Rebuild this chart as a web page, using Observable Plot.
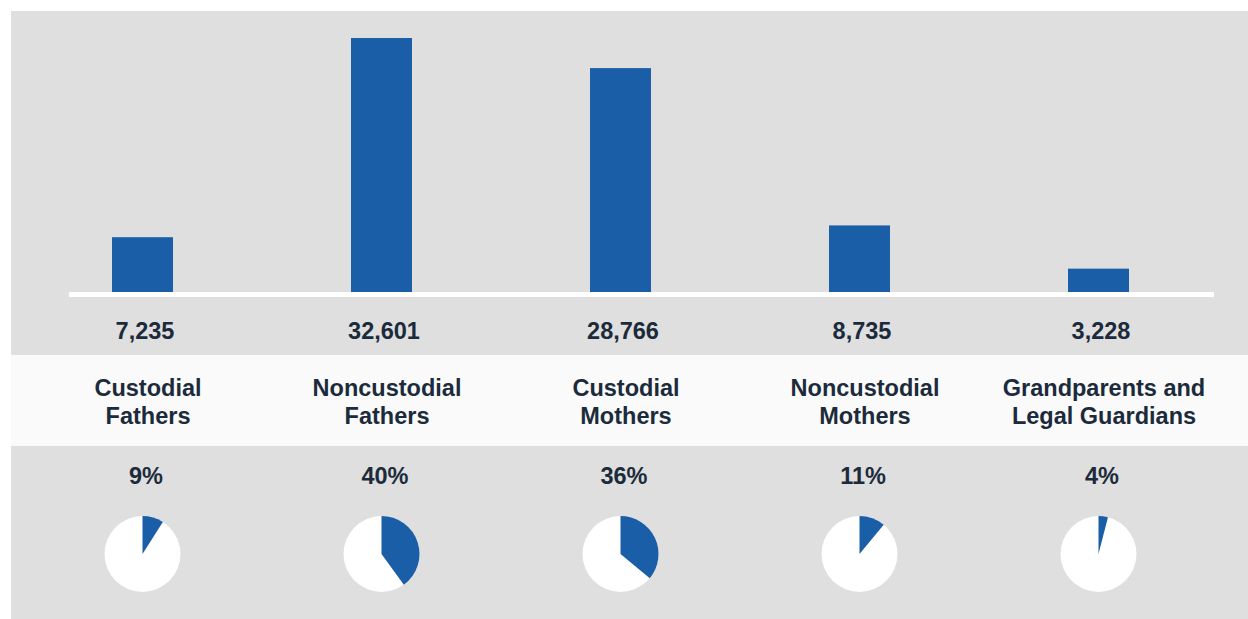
<!DOCTYPE html>
<html>
<head>
<meta charset="utf-8">
<script src="https://cdn.jsdelivr.net/npm/d3@7"></script>
<script src="https://cdn.jsdelivr.net/npm/@observablehq/plot@0.6"></script>
<style>
  html, body { margin: 0; padding: 0; background: #ffffff; }
  #wrap { position: relative; width: 1248px; height: 619px; overflow: hidden; }
  #panel { position: absolute; left: 11px; top: 11px; right: 0; bottom: 0; background: #dfdfdf; }
  #band { position: absolute; left: 11px; right: 0; top: 355px; height: 91px; background: #fafafa; }
  #chart { position: absolute; left: 0; top: 0; }
</style>
</head>
<body>
<div id="wrap">
  <div id="panel"></div>
  <div id="band"></div>
  <div id="chart"></div>
</div>
<script>
const categories = ["Custodial Fathers", "Noncustodial Fathers", "Custodial Mothers", "Noncustodial Mothers", "Grandparents and Legal Guardians"];
const categoryLabels = ["Custodial\nFathers", "Noncustodial\nFathers", "Custodial\nMothers", "Noncustodial\nMothers", "Grandparents and\nLegal Guardians"];
const counts = [7235, 32601, 28766, 8735, 3228];
const percents = [9, 40, 36, 11, 4];

const BLUE = "#1b5ea8";
const INK = "#1c2b3b";
const FONT = "'Liberation Sans', Arial, Helvetica, sans-serif";

const data = categories.map((c, i) => ({category: c, label: categoryLabels[i], count: counts[i], pct: percents[i]}));

function pies(index, scales) {
  const sx = scales.x;
  const bw = typeof sx.bandwidth === "function" ? sx.bandwidth() : 0;
  const g = d3.create("svg:g");
  const r = 38;
  const arc = d3.arc().innerRadius(0).outerRadius(r);
  for (const d of data) {
    const cx = sx(d.category) + bw / 2;
    const gg = g.append("g").attr("transform", `translate(${cx},554)`);
    gg.append("circle").attr("r", r).attr("fill", "white");
    gg.append("path")
      .attr("d", arc({startAngle: 0, endAngle: d.pct / 100 * 2 * Math.PI}))
      .attr("fill", BLUE);
  }
  return g.node();
}

const textOpts = {fill: INK, fontWeight: "bold", fontSize: 23.5, frameAnchor: "top", lineAnchor: "middle", textAnchor: "middle"};

const plot = Plot.plot({
  width: 1248,
  height: 619,
  marginTop: 0,
  marginBottom: 0,
  marginLeft: 69,
  marginRight: 34,
  style: {background: "transparent", fontFamily: FONT, overflow: "visible"},
  x: {type: "band", domain: categories, range: [21, 1219], padding: 0, axis: null},
  y: {domain: [0, d3.max(counts)], range: [294, 38], axis: null},
  marks: [
    Plot.barY(data, {x: "category", y: "count", fill: BLUE, insetLeft: 89, insetRight: 89}),
    Plot.ruleY([0], {stroke: "white", strokeWidth: 5}),
    Plot.text(data, {...textOpts, x: "category", dy: 331, dx: 2, text: d => d3.format(",")(d.count)}),
    Plot.text(data, {...textOpts, x: "category", dy: 401, dx: 5, lineHeight: 1.19, text: "label"}),
    Plot.text(data, {...textOpts, x: "category", dy: 476, dx: 3, text: d => `${d.pct}%`}),
    pies
  ]
});

document.getElementById("chart").appendChild(plot);
</script>
</body>
</html>
